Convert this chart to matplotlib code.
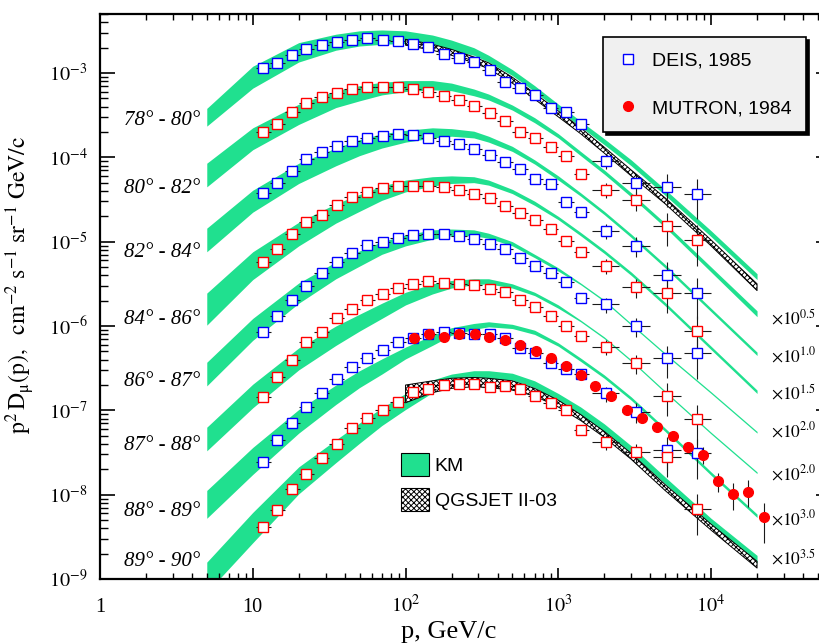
'''Muon momentum spectra at large zenith angles: DEIS and MUTRON data
compared with the KM and QGSJET II-03 calculations.
'''

# ----------------------------------------------------------------------------
# Modules
import matplotlib
matplotlib.use('Agg')
from matplotlib import pyplot as plt
from matplotlib.patches import Patch
from matplotlib.lines import Line2D
from matplotlib.ticker import FixedLocator, FixedFormatter, LogLocator, NullFormatter
import numpy as np

# ----------------------------------------------------------------------------
# Data

# momentum grid of the DEIS points [GeV/c]
p_deis = [11.7, 14.5, 18.2, 22.4, 28.2, 35.5, 44.7, 56.2, 70.8, 89.1, 112,
          141, 178, 224, 282, 355, 447, 562, 708, 891, 1122, 1413, 2042,
          3236, 5129, 8128]
# half width of the momentum bins in decades
deis_xerr = [0.05, 0.05, 0.05, 0.05, 0.05, 0.05, 0.05, 0.05, 0.05, 0.05,
             0.05, 0.05, 0.05, 0.05, 0.05, 0.05, 0.05, 0.05, 0.05, 0.05,
             0.05, 0.05, 0.09, 0.09, 0.09, 0.09]
# relative statistical errors
deis_rel_err = [0.05, 0.05, 0.05, 0.05, 0.05, 0.05, 0.05, 0.05, 0.05, 0.05,
                0.05, 0.05, 0.05, 0.05, 0.05, 0.05, 0.05, 0.05, 0.05, 0.05,
                0.05, 0.1, 0.2, 0.26, 0.42, 0.5]

# scaled spectra, one row per zenith angle bin (top to bottom)
deis_78_80 = [1.14e-3, 1.30e-3, 1.64e-3, 1.91e-3, 2.15e-3, 2.31e-3, 2.46e-3,
              2.58e-3, 2.46e-3, 2.42e-3, 2.19e-3, 2.02e-3, 1.68e-3, 1.49e-3,
              1.34e-3, 1.09e-3, 7.76e-4, 6.59e-4, 5.49e-4, 3.88e-4, 3.42e-4,
              2.48e-4, 9.12e-5, 4.92e-5, 4.41e-5, 3.67e-5]
deis_80_82 = [1.98e-4, 2.48e-4, 3.47e-4, 4.44e-4, 5.24e-4, 5.84e-4, 6.41e-4,
              6.77e-4, 6.88e-4, 6.77e-4, 6.46e-4, 5.90e-4, 5.38e-4, 4.79e-4,
              4.06e-4, 3.33e-4, 2.72e-4, 2.01e-4, 1.68e-4, 1.34e-4, 1.04e-4,
              6.28e-5, 4.09e-5, 3.11e-5, 1.53e-5, 1.04e-5]
deis_82_84 = [3.80e-5, 4.92e-5, 6.94e-5, 9.46e-5, 1.15e-4, 1.36e-4, 1.57e-4,
              1.71e-4, 1.80e-4, 1.87e-4, 1.84e-4, 1.71e-4, 1.57e-4, 1.44e-4,
              1.25e-4, 1.06e-4, 8.87e-5, 7.26e-5, 5.52e-5, 4.82e-5, 2.92e-5,
              2.22e-5, 1.34e-5, 8.95e-6, 4.02e-6, 2.44e-6]
deis_84_86 = [5.78e-6, 8.17e-6, 1.23e-5, 1.72e-5, 2.07e-5, 2.72e-5, 3.36e-5,
              3.85e-5, 4.36e-5, 4.60e-5, 4.60e-5, 4.57e-5, 4.41e-5, 4.09e-5,
              3.67e-5, 3.27e-5, 2.64e-5, 2.20e-5, 1.80e-5, 1.41e-5, 1.02e-5,
              7.46e-6, 5.18e-6, 2.87e-6, 2.44e-6, 8.77e-7]
deis_86_87 = [8.53e-7, 1.32e-6, 2.03e-6, 3.00e-6, 4.21e-6, 5.68e-6, 7.38e-6,
              9.12e-6, 9.98e-6, 1.12e-5, 1.20e-5, 1.23e-5, 1.22e-5, 1.16e-5,
              1.09e-5, 9.37e-6, 8.11e-6, 6.45e-6, 5.18e-6, 4.28e-6, 3.34e-6,
              2.17e-6, 1.80e-6, 9.97e-7, 4.13e-7, 4.73e-7]
deis_87_88 = [1.42e-7, 2.46e-7, 3.94e-7, 6.38e-7, 8.39e-7, 1.23e-6, 1.59e-6,
              2.03e-6, 2.37e-6, 2.79e-6, 3.11e-6, 3.41e-6, 3.25e-6, 3.14e-6,
              3.05e-6, 2.74e-6, 2.55e-6, 2.03e-6, 1.69e-6, 1.31e-6, 1.00e-6,
              7.65e-7, 5.66e-7, 3.60e-7, 1.47e-7, 7.79e-8]
deis_88_89 = [2.45e-8, 4.43e-8, 7.00e-8, 1.10e-7, 1.62e-7, 2.33e-7, 3.23e-7,
              4.20e-7, 5.18e-7, 6.39e-7, 7.13e-7, 8.02e-7, 8.53e-7, 8.30e-7,
              7.94e-7, 7.94e-7, 7.13e-7, 5.51e-7, 4.81e-7, 3.60e-7, 3.05e-7,
              2.67e-7, 1.59e-7, 9.59e-8, 3.37e-8, 3.08e-8]
deis_89_90 = [4.15e-9, 6.67e-9, 1.16e-8, 1.75e-8, 2.69e-8, 3.97e-8, 6.19e-8,
              8.01e-8, 1.00e-7, 1.26e-7, 1.66e-7, 1.77e-7, 1.99e-7, 2.05e-7,
              2.05e-7, 1.90e-7, 1.94e-7, 1.78e-7, 1.47e-7, 1.23e-7, 1.00e-7,
              5.82e-8, 4.23e-8, 3.17e-8, 2.76e-8, 6.73e-9]
deis_rows = [deis_78_80, deis_80_82, deis_82_84, deis_84_86,
             deis_86_87, deis_87_88, deis_88_89, deis_89_90]
deis_colors = ['#0000ff', '#ff0000', '#0000ff', '#ff0000',
               '#0000ff', '#ff0000', '#0000ff', '#ff0000']

# MUTRON, 1984
p_mutron = [113, 143, 179, 224, 286, 354, 449, 563, 713, 895, 1127, 1413,
            1750, 2218, 2812, 3525, 4424, 5597, 7018, 8849, 11040, 13900,
            17450, 22080]
mutron = [7.13e-7, 8.02e-7, 7.45e-7, 8.02e-7, 7.94e-7, 7.45e-7, 6.81e-7,
          5.93e-7, 5.04e-7, 4.13e-7, 3.34e-7, 2.62e-7, 1.94e-7, 1.47e-7,
          1.00e-7, 8.14e-8, 6.37e-8, 4.94e-8, 3.63e-8, 2.94e-8, 1.46e-8,
          1.01e-8, 1.08e-8, 5.37e-9]
nan = np.nan
mutron_lo = [nan, nan, nan, nan, nan, nan, nan, nan, nan, nan, nan, nan,
             nan, nan, nan, nan, nan, nan, nan, 2.34e-8, 1.08e-8, 6.55e-9,
             7.17e-9, 2.68e-9]
mutron_hi = [nan, nan, nan, nan, nan, nan, nan, nan, nan, nan, nan, nan,
             nan, nan, nan, nan, nan, nan, nan, 3.69e-8, 1.81e-8, 1.37e-8,
             1.49e-8, 8.00e-9]

# KM bands: log10 of the upper edge and band thickness in decades
p_km = [5, 10, 20, 35, 50, 70, 100, 150, 200, 280, 350, 500, 700, 1000,
        1400, 2000, 3000, 5000, 10000, 20000]
km_log_hi = [
    [-3.42, -2.92, -2.64, -2.54, -2.50, -2.49, -2.50, -2.55, -2.61, -2.70,
     -2.79, -2.96, -3.15, -3.37, -3.57, -3.78, -4.03, -4.38, -4.87, -5.38],
    [-4.07, -3.65, -3.37, -3.21, -3.15, -3.11, -3.09, -3.09, -3.12, -3.19,
     -3.25, -3.38, -3.53, -3.72, -3.93, -4.15, -4.42, -4.78, -5.30, -5.82],
    [-4.84, -4.39, -4.07, -3.89, -3.79, -3.72, -3.68, -3.65, -3.66, -3.69,
     -3.75, -3.87, -4.03, -4.22, -4.42, -4.64, -4.91, -5.27, -5.79, -6.31],
    [-5.61, -5.12, -4.77, -4.55, -4.44, -4.34, -4.27, -4.23, -4.22, -4.23,
     -4.27, -4.38, -4.52, -4.70, -4.89, -5.10, -5.36, -5.72, -6.24, -6.76],
    [-6.43, -5.91, -5.49, -5.24, -5.11, -5.00, -4.92, -4.86, -4.85, -4.86,
     -4.90, -5.00, -5.15, -5.31, -5.49, -5.69, -5.97, -6.32, -6.78, -7.25],
    [-7.20, -6.69, -6.26, -6.00, -5.86, -5.73, -5.60, -5.50, -5.46, -5.44,
     -5.44, -5.50, -5.60, -5.75, -5.93, -6.13, -6.40, -6.77, -7.26, -7.73],
    [-7.95, -7.44, -6.99, -6.70, -6.53, -6.39, -6.25, -6.11, -6.02, -5.97,
     -5.95, -5.98, -6.05, -6.20, -6.38, -6.58, -6.84, -7.21, -7.73, -8.23],
    [-8.80, -8.21, -7.67, -7.35, -7.15, -6.97, -6.80, -6.64, -6.57, -6.53,
     -6.53, -6.56, -6.65, -6.80, -6.96, -7.16, -7.42, -7.79, -8.28, -8.72],
]
km_width = [
    [0.21, 0.26, 0.23, 0.19, 0.18, 0.17, 0.15, 0.13, 0.12, 0.09, 0.08, 0.07,
     0.07, 0.07, 0.07, 0.07, 0.07, 0.07, 0.07, 0.07],
    [0.28, 0.26, 0.24, 0.20, 0.18, 0.15, 0.13, 0.11, 0.09, 0.08, 0.07, 0.06,
     0.06, 0.05, 0.05, 0.05, 0.05, 0.05, 0.06, 0.07],
    [0.28, 0.26, 0.24, 0.21, 0.19, 0.17, 0.14, 0.12, 0.09, 0.08, 0.07, 0.06,
     0.05, 0.05, 0.04, 0.04, 0.04, 0.04, 0.04, 0.04],
    [0.38, 0.33, 0.28, 0.23, 0.20, 0.17, 0.14, 0.11, 0.09, 0.07, 0.06, 0.05,
     0.05, 0.04, 0.04, 0.04, 0.04, 0.04, 0.04, 0.04],
    [0.28, 0.26, 0.24, 0.20, 0.18, 0.15, 0.13, 0.11, 0.08, 0.07, 0.06, 0.05,
     0.04, 0.04, 0.02, 0.02, 0.02, 0.02, 0.02, 0.02],
    [0.28, 0.28, 0.26, 0.23, 0.20, 0.18, 0.15, 0.12, 0.09, 0.07, 0.06, 0.05,
     0.04, 0.04, 0.02, 0.02, 0.02, 0.02, 0.02, 0.02],
    [0.33, 0.32, 0.28, 0.23, 0.20, 0.18, 0.14, 0.12, 0.09, 0.07, 0.06, 0.05,
     0.05, 0.04, 0.04, 0.04, 0.04, 0.04, 0.04, 0.04],
    [0.36, 0.36, 0.32, 0.27, 0.24, 0.21, 0.19, 0.15, 0.13, 0.11, 0.09, 0.08,
     0.08, 0.09, 0.09, 0.09, 0.09, 0.08, 0.08, 0.09],
]

# QGSJET II-03 bands for the first and the last angle bin
p_qgs = [100, 150, 200, 280, 350, 500, 700, 1000, 1400, 2000, 3000, 5000,
         10000, 20000]
qgs_78_80_log_hi = [-2.60, -2.66, -2.72, -2.81, -2.88, -3.05, -3.24, -3.45,
                    -3.65, -3.88, -4.15, -4.48, -4.98, -5.50]
qgs_78_80_width = [0.07, 0.07, 0.07, 0.07, 0.07, 0.07, 0.07, 0.07, 0.07,
                   0.07, 0.07, 0.07, 0.07, 0.08]
qgs_89_90_log_hi = [-6.70, -6.65, -6.62, -6.61, -6.62, -6.65, -6.74, -6.88,
                    -7.05, -7.25, -7.51, -7.88, -8.35, -8.79]
qgs_89_90_width = [0.21, 0.14, 0.12, 0.11, 0.11, 0.11, 0.09, 0.08, 0.07,
                   0.07, 0.07, 0.07, 0.07, 0.08]

angle_labels = [u'78\u00b0 - 80\u00b0', u'80\u00b0 - 82\u00b0',
                u'82\u00b0 - 84\u00b0', u'84\u00b0 - 86\u00b0',
                u'86\u00b0 - 87\u00b0', u'87\u00b0 - 88\u00b0',
                u'88\u00b0 - 89\u00b0', u'89\u00b0 - 90\u00b0']
scale_labels = ['0.5', '1.0', '1.5', '2.0', '2.0', '3.0', '3.5']

# ----------------------------------------------------------------------------


def main():

    km_green = '#20e08f'
    qgs_hatch = 'xxxxxx'

    plt.rcParams['font.family'] = 'serif'
    plt.rcParams['font.serif'] = ['Liberation Serif', 'DejaVu Serif']
    plt.rcParams['mathtext.fontset'] = 'stix'
    plt.rcParams['hatch.linewidth'] = 0.7

    fig = plt.figure(figsize=(8.19, 6.44), dpi=100)
    ax = fig.add_axes([0.1221, 0.1009, 0.8926, 0.8773])
    ax.set_xscale('log')
    ax.set_yscale('log')
    ax.set_xlim(1, 6.1e4)
    ax.set_ylim(1e-9, 5e-3)

    # KM bands
    for top, width in zip(km_log_hi, km_width):
        top = np.array(top)
        ax.fill_between(p_km, 10 ** (top - np.array(width)), 10 ** top,
                        color=km_green, lw=0, zorder=1)

    # QGSJET bands
    for top, width in ((qgs_78_80_log_hi, qgs_78_80_width),
                       (qgs_89_90_log_hi, qgs_89_90_width)):
        top = np.array(top)
        ax.fill_between(p_qgs, 10 ** (top - np.array(width)), 10 ** top,
                        facecolor='white', edgecolor='black',
                        hatch=qgs_hatch, lw=0.7, zorder=2)

    # DEIS points
    p = np.array(p_deis)
    dx = 10 ** np.array(deis_xerr)
    rel = np.array(deis_rel_err)
    for vals, col in zip(deis_rows, deis_colors):
        v = np.array(vals)
        ax.errorbar(p, v, xerr=[p - p / dx, p * dx - p], yerr=[v * rel, v * rel],
                    fmt='none', ecolor='#1a1a1a', elinewidth=0.8, capsize=0,
                    zorder=3)
        ax.plot(p, v, 's', ms=7.5, mfc='white', mec=col, mew=1.0, zorder=4)

    # MUTRON points
    mv = np.array(mutron)
    ax.errorbar(p_mutron, mv,
                yerr=[mv - np.array(mutron_lo), np.array(mutron_hi) - mv],
                fmt='none', ecolor='#1a1a1a', elinewidth=0.8, capsize=0,
                zorder=5)
    ax.plot(p_mutron, mv, 'o', ms=7, color='#ff0000', mec='#ff0000', zorder=6)

    # angle and scale labels
    angle_y = [0.8044, 0.6841, 0.5708, 0.4522, 0.3425, 0.2292, 0.1124, 0.0239]
    for lab, yy in zip(angle_labels, angle_y):
        ax.text(0.1368, yy, lab, transform=ax.transAxes, ha='right',
                va='baseline', fontsize=15, fontstyle='italic')
    scale_y = [0.4504, 0.3850, 0.3186, 0.2513, 0.1752, 0.0956, 0.0257]
    for lab, yy in zip(scale_labels, scale_y):
        ax.text(0.9175, yy, r'$\times\mathit{10}^{\mathit{%s}}$' % lab,
                transform=ax.transAxes, ha='left', va='baseline', fontsize=12.5)

    # axes
    ax.xaxis.set_major_locator(FixedLocator([1, 10, 100, 1000, 10000]))
    ax.xaxis.set_major_formatter(FixedFormatter(
        ['1', '10', r'$10^{2}$', r'$10^{3}$', r'$10^{4}$']))
    ax.xaxis.set_minor_locator(LogLocator(base=10, subs=np.arange(2, 10),
                                          numticks=20))
    ax.xaxis.set_minor_formatter(NullFormatter())
    ax.yaxis.set_major_locator(FixedLocator([1e-9, 1e-8, 1e-7, 1e-6, 1e-5,
                                             1e-4, 1e-3]))
    ax.yaxis.set_major_formatter(FixedFormatter(
        [r'$10^{-9}$', r'$10^{-8}$', r'$10^{-7}$', r'$10^{-6}$', r'$10^{-5}$',
         r'$10^{-4}$', r'$10^{-3}$']))
    ax.yaxis.set_minor_locator(LogLocator(base=10, subs=np.arange(2, 10),
                                          numticks=20))
    ax.yaxis.set_minor_formatter(NullFormatter())

    ax.tick_params(which='both', direction='in', top=True, right=True)
    ax.tick_params(axis='y', which='major', length=11, width=1.2,
                   labelsize=14.5, pad=9)
    ax.tick_params(axis='y', which='minor', length=6, width=1.0)
    ax.tick_params(axis='x', which='major', length=8, width=1.2,
                   labelsize=14.5, pad=24)
    ax.tick_params(axis='x', which='minor', length=4.5, width=1.0)
    for lab in ax.get_xticklabels():
        lab.set_verticalalignment('baseline')
    for sp in ax.spines.values():
        sp.set_linewidth(1.6)

    ax.set_xlabel('p, GeV/c', fontsize=19)
    ax.xaxis.set_label_coords(0.4774, -0.074)
    ax.set_ylabel(r'$\mathrm{p^{2}\,D_{\mu}(p),\ \ cm^{-2}\ s^{-1}\ sr^{-1}\ GeV/c}$',
                  fontsize=17)
    ax.yaxis.set_label_coords(-0.086, 0.52)

    # legends
    sans = {'family': 'Liberation Sans', 'size': 14}
    h_data = [Line2D([], [], ls='none', marker='s', ms=7.5, mfc='white',
                     mec='#0000ff', mew=1.0),
              Line2D([], [], ls='none', marker='o', ms=7, color='#ff0000')]
    leg1 = ax.legend(h_data, ['DEIS, 1985', 'MUTRON, 1984'], loc='upper left',
                     bbox_to_anchor=(0.6877, 0.9588), borderaxespad=0,
                     borderpad=0.75, handlelength=1.07, handletextpad=0.72,
                     labelspacing=1.55, prop=sans, fancybox=False,
                     edgecolor='black', facecolor='#f0f0f0', framealpha=1,
                     shadow={'color': 'black', 'alpha': 1})
    leg1.get_frame().set_linewidth(1.2)
    ax.add_artist(leg1)

    h_model = [Patch(facecolor=km_green, edgecolor='black', lw=0.8),
               Patch(facecolor='white', edgecolor='black', hatch=qgs_hatch,
                     lw=0.8)]
    ax.legend(h_model, ['KM', 'QGSJET II-03'], loc='upper left',
              bbox_to_anchor=(0.4114, 0.2225), borderaxespad=0, borderpad=0,
              handlelength=1.44, handleheight=1.44, handletextpad=0.31,
              labelspacing=0.62, prop=sans, frameon=False)

    fig.savefig('out.png', dpi=100)

    return None

# ----------------------------------------------------------------------------


if __name__ == "__main__":
    main()
